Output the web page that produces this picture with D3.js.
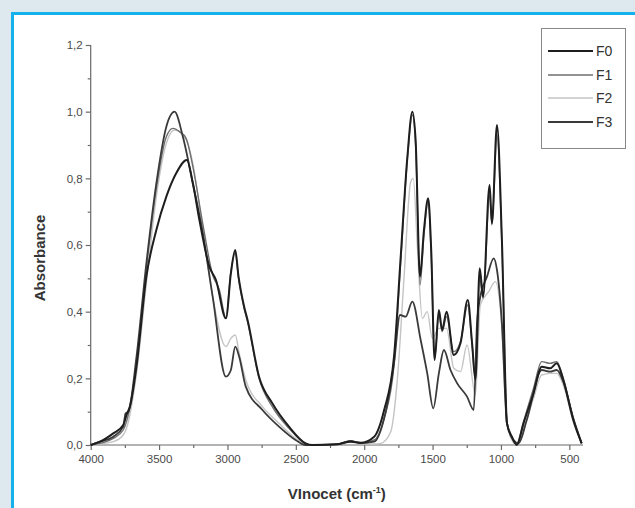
<!DOCTYPE html>
<html>
<head>
<meta charset="utf-8">
<script src="https://cdn.jsdelivr.net/npm/d3@7"></script>
<style>
  body { margin: 0; background: #dee9ef; }
  svg { display: block; font-family: "Liberation Sans", Arial, sans-serif; }
</style>
</head>
<body>
<div id="wrapper"></div>
<script>
// Data: [wavenumber, absorbance]
const seriesNames = ["F0", "F1", "F2", "F3"]
const seriesColors = ["#1e1e1e", "#6e6e6e", "#c4c4c4", "#3a3a3a"]
const seriesWidths = [2, 1.4, 1.4, 1.8]

const f0 = [[4000,0],[3932,0.01],[3835,0.035],[3762,0.06],[3738,0.09],[3710,0.12],[3665,0.235],[3593,0.505],[3520,0.645],[3447,0.745],[3375,0.815],[3297,0.855],[3253,0.785],[3205,0.675],[3132,0.535],[3084,0.495],[3011,0.38],[2975,0.515],[2943,0.585],[2919,0.505],[2878,0.415],[2853,0.375],[2769,0.205],[2672,0.125],[2550,0.055],[2429,0.005],[2381,0],[2200,0.002],[2100,0.01],[2024,0.007],[1927,0.025],[1854,0.105],[1782,0.265],[1733,0.565],[1684,0.865],[1648,1.0],[1624,0.915],[1592,0.505],[1563,0.645],[1532,0.74],[1510,0.585],[1485,0.255],[1454,0.405],[1430,0.345],[1398,0.40],[1345,0.27],[1296,0.305],[1243,0.435],[1211,0.305],[1187,0.195],[1155,0.53],[1131,0.445],[1083,0.78],[1066,0.665],[1029,0.96],[993,0.615],[956,0.065],[920,0.025],[884,0],[835,0.065],[762,0.155],[702,0.235],[641,0.23],[592,0.245],[544,0.195],[471,0.075],[410,0.005]]

const f1 = [[4000,0],[3932,0.005],[3835,0.02],[3762,0.045],[3738,0.07],[3665,0.245],[3593,0.53],[3520,0.77],[3447,0.925],[3399,0.95],[3350,0.94],[3302,0.92],[3253,0.835],[3181,0.665],[3108,0.51],[3059,0.465],[3011,0.38],[2975,0.52],[2943,0.575],[2919,0.50],[2878,0.41],[2853,0.37],[2769,0.2],[2672,0.115],[2550,0.05],[2429,0.005],[2381,0],[2200,0.002],[2100,0.012],[2024,0.005],[1927,0.015],[1854,0.08],[1782,0.24],[1733,0.55],[1684,0.86],[1648,0.99],[1624,0.9],[1592,0.48],[1563,0.63],[1532,0.73],[1510,0.57],[1485,0.26],[1454,0.39],[1430,0.34],[1398,0.385],[1345,0.28],[1296,0.31],[1243,0.42],[1211,0.3],[1187,0.2],[1155,0.5],[1131,0.44],[1083,0.75],[1066,0.66],[1029,0.93],[993,0.6],[956,0.07],[920,0.02],[884,0.005],[835,0.07],[762,0.17],[702,0.25],[641,0.245],[592,0.25],[544,0.2],[471,0.08],[410,0.005]]

const f2 = [[4000,0],[3932,0.003],[3835,0.01],[3762,0.03],[3738,0.05],[3665,0.215],[3593,0.485],[3520,0.745],[3447,0.905],[3387,0.945],[3302,0.915],[3253,0.845],[3181,0.645],[3108,0.445],[3011,0.295],[2975,0.32],[2943,0.33],[2914,0.275],[2866,0.195],[2744,0.115],[2623,0.065],[2502,0.02],[2429,0.003],[2381,0],[2200,0.002],[2100,0.01],[2024,0.004],[1927,0.003],[1879,0.005],[1806,0.04],[1757,0.2],[1709,0.5],[1660,0.79],[1641,0.8],[1612,0.6],[1575,0.38],[1539,0.4],[1502,0.32],[1454,0.35],[1398,0.35],[1345,0.23],[1296,0.22],[1248,0.3],[1187,0.15],[1151,0.42],[1090,0.46],[1041,0.49],[993,0.35],[956,0.06],[920,0.015],[884,0],[835,0.05],[762,0.14],[702,0.21],[641,0.215],[592,0.215],[544,0.18],[471,0.07],[410,0.005]]

const f3 = [[4000,0],[3932,0.01],[3835,0.025],[3762,0.055],[3745,0.095],[3725,0.1],[3665,0.265],[3593,0.545],[3520,0.785],[3447,0.955],[3387,1.0],[3326,0.925],[3253,0.785],[3180,0.635],[3108,0.445],[3011,0.205],[2975,0.225],[2943,0.295],[2914,0.265],[2866,0.175],[2744,0.105],[2623,0.055],[2502,0.015],[2429,0],[2200,0.002],[2100,0.012],[2024,0.006],[1927,0.01],[1854,0.08],[1782,0.245],[1738,0.39],[1697,0.385],[1648,0.43],[1587,0.315],[1539,0.215],[1495,0.11],[1454,0.215],[1417,0.285],[1369,0.225],[1320,0.185],[1248,0.145],[1199,0.105],[1175,0.365],[1151,0.445],[1102,0.505],[1053,0.56],[1029,0.525],[993,0.365],[956,0.065],[908,0.015],[871,0.005],[811,0.075],[702,0.225],[641,0.22],[592,0.225],[544,0.19],[471,0.08],[410,0.005]]

const allSeries = [f0, f1, f2, f3]

const xMajorTicks = [4000, 3500, 3000, 2500, 2000, 1500, 1000, 500]
const xMinorTicks = [3750, 3250, 2750, 2250, 1750, 1250, 750]
const yMajorTicks = [0, 0.2, 0.4, 0.6, 0.8, 1.0, 1.2]
const yMinorTicks = [0.1, 0.3, 0.5, 0.7, 0.9, 1.1]

// Mitoitus
const width = 635
const height = 508
const plot = { left: 90.7, right: 583, top: 45, bottom: 445 }

const svg = d3.select("#wrapper")
  .append("svg")
  .attr("width", width)
  .attr("height", height)

// panel
svg.append("rect")
  .attr("x", 0).attr("y", 0)
  .attr("width", width).attr("height", height)
  .attr("fill", "#dee9ef")
svg.append("rect")
  .attr("x", 12.5).attr("y", 13.5)
  .attr("width", width + 20).attr("height", height + 20)
  .attr("fill", "#fff")
  .attr("stroke", "#14b1ea")
  .attr("stroke-width", 3)

// Skaalaimet
const xScale = d3.scaleLinear()
  .domain([4000, 400])
  .range([plot.left, plot.right])

const yScale = d3.scaleLinear()
  .domain([0, 1.2])
  .range([plot.bottom, plot.top])

const axisColor = "#6a6a6a"
const comma = d3.format(".1f")

// x axis
const xAxis = svg.append("g")
  .attr("transform", `translate(0, ${plot.bottom})`)
  .call(d3.axisBottom(xScale).tickValues(xMajorTicks).tickSize(5).tickPadding(5).tickFormat(d3.format("d")))
xAxis.select(".domain").attr("d", `M${plot.left},0H${plot.right}`)
svg.append("g")
  .attr("transform", `translate(0, ${plot.bottom})`)
  .call(d3.axisBottom(xScale).tickValues(xMinorTicks).tickSize(3).tickFormat(""))
  .select(".domain").remove()

// y axis
const yAxis = svg.append("g")
  .attr("transform", `translate(${plot.left}, 0)`)
  .call(d3.axisLeft(yScale).tickValues(yMajorTicks).tickSize(5).tickPadding(3).tickFormat(d => comma(d).replace(".", ",")))
yAxis.select(".domain").attr("d", `M0,${plot.top}V${plot.bottom}`)
svg.append("g")
  .attr("transform", `translate(${plot.left}, 0)`)
  .call(d3.axisLeft(yScale).tickValues(yMinorTicks).tickSize(3).tickFormat(""))
  .select(".domain").remove()

svg.selectAll(".domain, .tick line")
  .attr("stroke", axisColor)
  .attr("stroke-width", 1.2)
svg.selectAll(".tick text")
  .attr("fill", "#4a4a4a")
  .attr("font-size", "11.5px")
  .attr("font-family", "'Liberation Sans', Arial, sans-serif")

// lines
const lineGenerator = d3.line()
  .x(d => xScale(d[0]))
  .y(d => yScale(d[1]))
  .curve(d3.curveMonotoneX)

// draw light ones first so dark stay on top
const order = [2, 1, 3, 0]
order.forEach(i => {
  svg.append("path")
    .attr("d", lineGenerator(allSeries[i]))
    .attr("fill", "none")
    .attr("stroke", seriesColors[i])
    .attr("stroke-width", seriesWidths[i])
    .attr("stroke-linejoin", "round")
})

// axis titles
svg.append("text")
  .attr("transform", `translate(45, 258) rotate(-90)`)
  .attr("text-anchor", "middle")
  .attr("font-size", "15px")
  .attr("font-weight", "bold")
  .attr("fill", "#333")
  .text("Absorbance")

const xTitle = svg.append("text")
  .attr("x", (plot.left + plot.right) / 2)
  .attr("y", 499)
  .attr("text-anchor", "middle")
  .attr("font-size", "15px")
  .attr("font-weight", "bold")
  .attr("fill", "#333")
xTitle.append("tspan").text("VInocet (cm")
xTitle.append("tspan").attr("dy", -6).attr("font-size", "9px").text("-1")
xTitle.append("tspan").attr("dy", 6).text(")")

// legend
const legend = svg.append("g")
legend.append("rect")
  .attr("x", 541.5).attr("y", 28.5)
  .attr("width", 84).attr("height", 120)
  .attr("fill", "#fff")
  .attr("stroke", "#888")
  .attr("stroke-width", 1)

const legendY = [51, 75, 98, 122]
seriesNames.forEach((name, i) => {
  legend.append("line")
    .attr("x1", 548).attr("x2", 593)
    .attr("y1", legendY[i]).attr("y2", legendY[i])
    .attr("stroke", seriesColors[i])
    .attr("stroke-width", seriesWidths[i])
  legend.append("text")
    .attr("x", 596)
    .attr("y", legendY[i] + 5)
    .attr("font-size", "14px")
    .attr("fill", "#333")
    .text(name)
})
</script>
</body>
</html>
